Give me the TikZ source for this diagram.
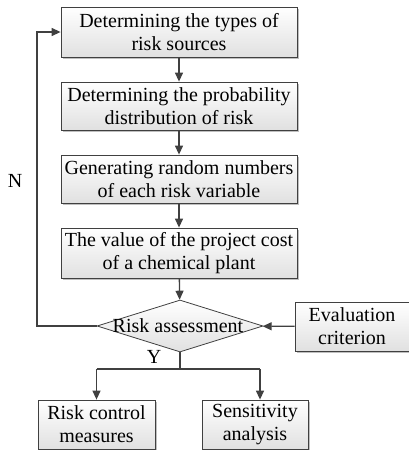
\documentclass[tikz,border=0pt]{standalone}
\usepackage{fontspec}
\setmainfont{Liberation Serif}
\usetikzlibrary{shapes.geometric,arrows.meta,shadows}
\begin{document}
\begin{tikzpicture}[x=1pt,y=-1pt,
  every node/.style={font=\fontsize{20}{23}\selectfont},
  box/.style={draw=black!75, line width=0.8pt, top color=white, bottom color=black!12,
    drop shadow={shadow xshift=2pt, shadow yshift=-2pt, fill=black!25, opacity=1},
    align=center, inner sep=0pt},
  line/.style={draw=black!75, line width=1.3pt},
  arr/.style={line, -{Triangle[length=9pt,width=8pt]}}]
\useasboundingbox (0,0) rectangle (409,450);
\node[box, minimum width=236pt, minimum height=50pt] (b1) at (179,32) {Determining the types of\\risk sources};
\node[box, minimum width=236pt, minimum height=48pt] (b2) at (179,106) {Determining the probability\\distribution of risk};
\node[box, minimum width=236pt, minimum height=48pt] (b3) at (179,179) {Generating random numbers\\of each risk variable};
\node[box, minimum width=236pt, minimum height=50pt] (b4) at (179,253) {The value of the project cost\\of a chemical plant};
\node[diamond, draw=black!75, line width=0.8pt, top color=white, bottom color=black!12,
  minimum width=166pt, minimum height=52pt, inner sep=0pt] (d) at (180,326) {};
\node (dt) at (178,326) {Risk assessment};
\node[box, minimum width=114pt, minimum height=49pt] (ev) at (352,326.5) {Evaluation\\criterion};
\node[box, minimum width=117pt, minimum height=49pt] (rc) at (96.5,424.5) {Risk control\\measures};
\node[box, minimum width=106pt, minimum height=49pt] (sa) at (255,424.5) {Sensitivity\\analysis};
\node (N) at (15,181) {N};
\node (Y) at (154,357) {Y};
\coordinate (fb) at (37,326);
\coordinate (fbt) at (37,32);
\coordinate (br) at (180,369);
\coordinate (brl) at (96.5,369);
\coordinate (brr) at (260,369);
\draw[arr] (b1) -- (b2);
\draw[arr] (b2) -- (b3);
\draw[arr] (b3) -- (b4);
\draw[arr] (b4) -- (d);
\draw[arr] (ev) -- (d);
\draw[arr] (d.west) -- (fb) -- (fbt) -- (b1.west);
\draw[line] (d.south) -- (br);
\draw[arr] (brl) -- (rc.north);
\draw[arr] (brr) -- (brr |- sa.north);
\draw[line] (brl) -- (brr);
\end{tikzpicture}
\end{document}
